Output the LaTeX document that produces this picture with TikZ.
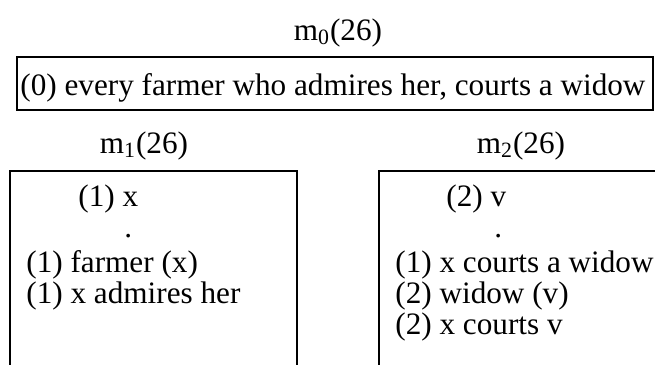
\documentclass[tikz,border=0pt]{standalone}
\usepackage{fontspec}
\setmainfont{Liberation Serif}
\tikzset{
  frame/.style={draw=black,line width=0.9pt},
  txt/.style={font=\fontsize{15.6}{16}\selectfont,inner sep=0pt,anchor=base west},
  head/.style={font=\fontsize{15.6}{16}\selectfont,inner sep=0pt,anchor=base}
}
\begin{document}
\begin{tikzpicture}[x=0.5pt,y=-0.5pt]
  \useasboundingbox (0,0) rectangle (655,365);
  % sentence model m_0
  \node[head] (m0) at (338,40) {m\textsubscript{0}(26)};
  \draw[frame] (17,57) rectangle (653,110);
  \node[txt] (s0) at (20,95) {(0) every farmer who admires her, courts a widow};
  % sub-models, boxes run on past the lower edge
  \node[head] (m1) at (144,153) {m\textsubscript{1}(26)};
  \node[head] (m2) at (521,153) {m\textsubscript{2}(26)};
  \draw[frame] (10,367) |- (297,171) -- (297,367);
  \draw[frame] (379,367) |- (657,171);
  % m_1 contents
  \node[txt] (x1) at (78,206) {(1) x};
  \node[txt] (d1) at (124,237) {.};
  \node[txt] (f1) at (26,272) {(1) farmer (x)};
  \node[txt] (a1) at (26,303) {(1) x admires her};
  % m_2 contents
  \node[txt] (v2) at (446,206) {(2) v};
  \node[txt] (d2) at (494,237) {.};
  \node[txt] (c1) at (395,272) {(1) x courts a widow};
  \node[txt] (w2) at (395,303) {(2) widow (v)};
  \node[txt] (c2) at (395,334) {(2) x courts v};
\end{tikzpicture}
\end{document}
